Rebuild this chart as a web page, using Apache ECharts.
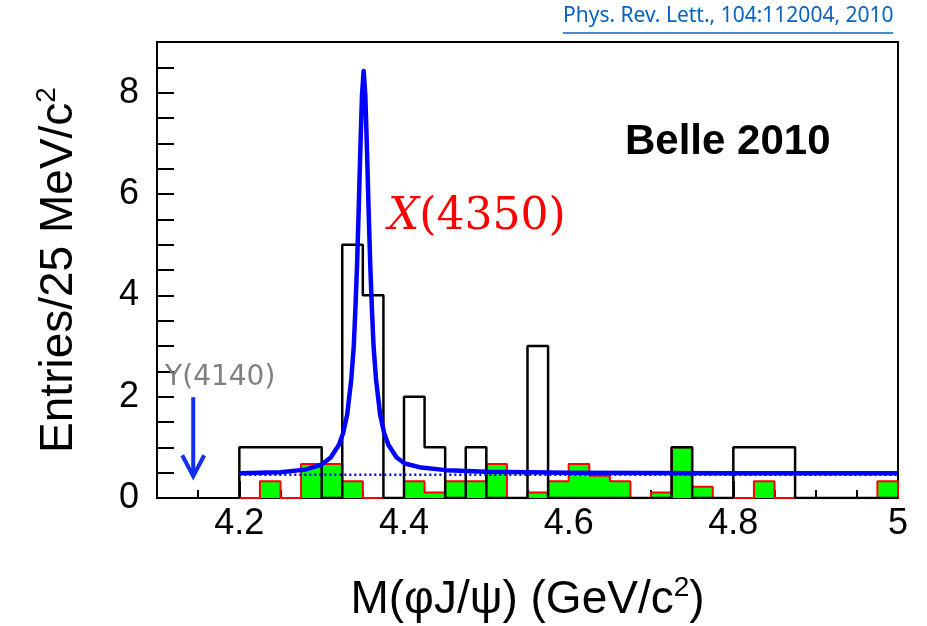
<!DOCTYPE html>
<html>
<head>
<meta charset="utf-8">
<script src="https://cdn.jsdelivr.net/npm/echarts@6/dist/echarts.min.js"></script>
<style>
  html,body{margin:0;padding:0;background:#fff;}
  #chart{width:927px;height:626px;}
</style>
</head>
<body>
<div id="chart"></div>
<script>
  // histogram bins: 25 MeV wide starting at 4.2 GeV
  var binStart = 4.2;
  var binWidth = 0.025;
  // data (open black histogram)
  var dataCounts = [1,1,1,1, 0,5,4,0, 2,1,0,1, 0,0,3,0, 0,0,0,0, 0,1,0,0, 1,1,1,0, 0,0,0,0];
  // background estimate (green filled, red outline)
  var bkgCounts = [0,0.33,0,0.67, 0.67,0.33,0,0, 0.33,0.11,0.33,0.33, 0.67,0,0.11,0.33,
                   0.67,0.44,0.33,0, 0.11,1.0,0.22,0, 0,0.33,0,0, 0,0,0,0.33];
  // fit curve
  var fitX = [4.200,4.250,4.280,4.300,4.311,4.321,4.326,4.331,4.336,4.339,4.341,4.343,4.345,4.347,4.349,
              4.351,4.353,4.355,4.357,4.359,4.361,4.363,4.366,4.371,4.376,4.381,4.391,4.401,4.421,4.451,
              4.500,4.600,4.800,5.000];
  var fitY = [0.49,0.51,0.56,0.66,0.80,1.05,1.28,1.65,2.35,3.00,3.75,4.60,5.70,6.90,7.95,
              8.43,7.95,6.90,5.70,4.60,3.75,3.00,2.35,1.65,1.28,1.05,0.80,0.68,0.60,0.55,
              0.52,0.50,0.49,0.49];
  // flat background level of the fit (dotted)
  var bkgLevelX = [4.2, 5.0];
  var bkgLevelY = [0.46, 0.46];
  // Y(4140) marker
  var y4140 = [4.144, 1.99, 0.43];

  var xMajorTicks = [4.2,4.4,4.6,4.8,5.0];
  var xMinorTicks = [4.15,4.25,4.3,4.35,4.45,4.5,4.55,4.65,4.7,4.75,4.85,4.9,4.95];
  var yLabels = [0,2,4,6,8];
  var yTicks = [0.5,1,1.5,2,2.5,3,3.5,4,4.5,5,5.5,6,6.5,7,7.5,8,8.5];

  function stepData(vals){
    var out = [[binStart,0]];
    for(var i=0;i<vals.length;i++){
      out.push([binStart+i*binWidth, vals[i]]);
    }
    var end = binStart+vals.length*binWidth;
    out.push([end, vals[vals.length-1]]);
    out.push([end, 0]);
    return out;
  }
  function pairs(xs, ys){
    return xs.map(function(x,i){ return [x, ys[i]]; });
  }

  var font = 'Liberation Sans, Arial, sans-serif';
  var nameRich = {
    a:{fontSize:46,fontFamily:font,color:'#000',lineHeight:52},
    s:{fontSize:28,fontFamily:font,color:'#000',verticalAlign:'top',lineHeight:52}
  };
  var myChart = echarts.init(document.getElementById('chart'));
  var option = {
    animation:false,
    backgroundColor:'#fff',
    grid:{
      left:157, right:29, top:42, bottom:128,
      outerBoundsMode:'none', containLabel:false,
      show:true, borderColor:'#000', borderWidth:2
    },
    xAxis:[
      {
        type:'value', min:4.1, max:5.0,
        axisLine:{lineStyle:{color:'#000',width:2}},
        axisTick:{inside:true,length:17,customValues:xMajorTicks,lineStyle:{color:'#000',width:2}},
        axisLabel:{
          customValues:xMajorTicks, color:'#000', fontSize:36, fontFamily:font, margin:8,
          formatter:function(v){ return v===5 ? '5' : v.toFixed(1); }
        },
        splitLine:{show:false},
        name:'{a|M(φJ/ψ) (GeV/c}{s|2}{a|)}', nameLocation:'middle', nameGap:76,
        nameTextStyle:{color:'#000',fontSize:46,fontFamily:font,rich:nameRich}
      },
      {
        type:'value', min:4.1, max:5.0, position:'bottom',
        axisLine:{show:false},
        axisTick:{inside:true,length:8,customValues:xMinorTicks,lineStyle:{color:'#000',width:2}},
        axisLabel:{show:false},
        splitLine:{show:false}
      }
    ],
    yAxis:[
      {
        type:'value', min:0, max:9,
        axisLine:{show:true,lineStyle:{color:'#000',width:2}},
        axisTick:{show:true,inside:true,length:17,customValues:yTicks,lineStyle:{color:'#000',width:2}},
        axisLabel:{customValues:yLabels,color:'#000',fontSize:36,fontFamily:font,margin:18},
        splitLine:{show:false},
        name:'{a|Entries/25 MeV/c}{s|2}', nameLocation:'middle', nameGap:72, nameRotate:90,
        nameTextStyle:{color:'#000',fontSize:46,fontFamily:font,rich:nameRich}
      }
    ],
    series:[
      {
        name:'background', type:'line', step:'end', symbol:'none',
        data:stepData(bkgCounts),
        lineStyle:{color:'#ff0000',width:2},
        areaStyle:{color:'#00ff00',opacity:1},
        z:2
      },
      {
        name:'data', type:'line', step:'end', symbol:'none',
        data:stepData(dataCounts),
        lineStyle:{color:'#000',width:2.5},
        z:3
      },
      {
        name:'bkgLevel', type:'line', symbol:'none',
        data:pairs(bkgLevelX,bkgLevelY),
        lineStyle:{color:'#0000ff',width:2.5,type:[2,3]},
        z:4
      },
      {
        name:'fit', type:'line', symbol:'none',
        data:pairs(fitX,fitY),
        lineStyle:{color:'#0000ff',width:4.5,join:'round'},
        z:5
      },
      {
        name:'Y(4140)', type:'custom',
        data:[y4140],
        encode:{x:0,y:[1,2]},
        renderItem:function(params, api){
          var top = api.coord([api.value(0), api.value(1)]);
          var tip = api.coord([api.value(0), api.value(2)]);
          var st = {stroke:'#1030ee',lineWidth:4,fill:null};
          return {
            type:'group',
            children:[
              {type:'line',shape:{x1:top[0],y1:top[1],x2:tip[0],y2:tip[1]},style:st},
              {type:'polyline',shape:{points:[[tip[0]-11,tip[1]-21],[tip[0],tip[1]],[tip[0]+11,tip[1]-21]]},style:st},
              {type:'text',style:{text:'Y(4140)',x:top[0]+27,y:top[1]-5,align:'center',verticalAlign:'bottom',
                fill:'#808080',font:'28px DejaVu Sans, sans-serif'}}
            ]
          };
        },
        z:6
      }
    ],
    graphic:[
      {type:'text',left:563,top:6,style:{text:'Phys. Rev. Lett., 104:112004, 2010',fill:'#0563c1',
        font:'21px Liberation Sans Narrow, Noto Sans, sans-serif'}},
      {type:'line',shape:{x1:563,y1:33,x2:893,y2:33},style:{stroke:'#0563c1',lineWidth:1.5}},
      {type:'text',left:625,top:121,style:{text:'Belle 2010',fill:'#000',
        font:'bold 42px Liberation Sans, Arial, sans-serif'}},
      {type:'text',left:388,top:196,style:{
        text:'{i|X}{n|(4350)}',fill:'#ff0000',
        rich:{
          i:{fontFamily:'DejaVu Serif',fontStyle:'italic',fontSize:44,fill:'#ff0000',color:'#ff0000'},
          n:{fontFamily:'DejaVu Serif',fontSize:44,fill:'#ff0000',color:'#ff0000'}
        }
      }}
    ]
  };
  myChart.setOption(option);
  window.addEventListener('resize',function(){
    myChart.resize();
  });
</script>
</body>
</html>
